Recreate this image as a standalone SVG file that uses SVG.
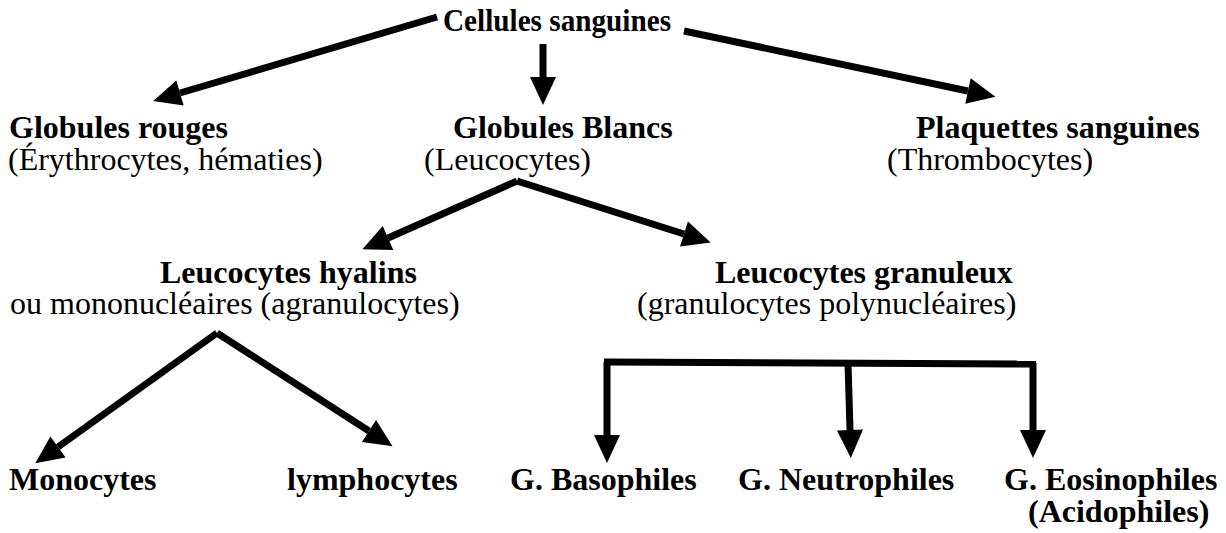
<svg xmlns="http://www.w3.org/2000/svg" width="1226" height="533" viewBox="0 0 1226 533">
<style>
text{font-family:"Liberation Serif","Times New Roman",serif;font-size:32px;fill:#000}
.b{font-weight:bold}
.c line,.c path{stroke:#000;stroke-width:7;fill:none}
</style>
<defs>
<marker id="ah" markerUnits="userSpaceOnUse" markerWidth="30" markerHeight="28" refX="0" refY="13" orient="auto" overflow="visible">
<path d="M0,0 L28,13 L0,26 z" fill="#000"/>
</marker>
</defs>
<rect width="1226" height="533" fill="#fff"/>
<g class="c" id="connectors">
<line x1="437" y1="17" x2="180" y2="93" marker-end="url(#ah)"/>
<line x1="543" y1="44" x2="543" y2="77" marker-end="url(#ah)"/>
<line x1="684" y1="31" x2="968" y2="91" marker-end="url(#ah)"/>
<line x1="517" y1="181" x2="388" y2="238" marker-end="url(#ah)"/>
<line x1="517" y1="181" x2="684" y2="234" marker-end="url(#ah)"/>
<line x1="217" y1="333" x2="58" y2="447" marker-end="url(#ah)"/>
<line x1="217" y1="333" x2="369" y2="431" marker-end="url(#ah)"/>
<path d="M604,362 L1036,364"/>
<line x1="607" y1="362" x2="607" y2="435" marker-end="url(#ah)"/>
<line x1="848" y1="363" x2="850" y2="430" marker-end="url(#ah)"/>
<line x1="1033" y1="363" x2="1033" y2="430" marker-end="url(#ah)"/>
</g>
<g id="n-cellules"><text class="b" x="443" y="31" font-size="31" textLength="228" lengthAdjust="spacingAndGlyphs">Cellules sanguines</text></g>
<g id="n-rouges"><text class="b" x="9" y="138">Globules rouges</text><text x="8" y="170">(Érythrocytes, hématies)</text></g>
<g id="n-blancs"><text class="b" x="453" y="138">Globules Blancs</text><text x="424" y="170">(Leucocytes)</text></g>
<g id="n-plaquettes"><text class="b" x="916" y="138">Plaquettes sanguines</text><text x="887" y="170">(Thrombocytes)</text></g>
<g id="n-hyalins"><text class="b" x="160" y="283">Leucocytes hyalins</text><text x="10" y="314">ou mononucléaires (agranulocytes)</text></g>
<g id="n-granuleux"><text class="b" x="715" y="283">Leucocytes granuleux</text><text x="637" y="314">(granulocytes polynucléaires)</text></g>
<g id="n-monocytes"><text class="b" x="9" y="490">Monocytes</text></g>
<g id="n-lymphocytes"><text class="b" x="287" y="490">lymphocytes</text></g>
<g id="n-basophiles"><text class="b" x="510" y="490">G. Basophiles</text></g>
<g id="n-neutrophiles"><text class="b" x="738" y="490">G. Neutrophiles</text></g>
<g id="n-eosinophiles"><text class="b" x="1004" y="490">G. Eosinophiles</text><text class="b" x="1028" y="522">(Acidophiles)</text></g>
</svg>
